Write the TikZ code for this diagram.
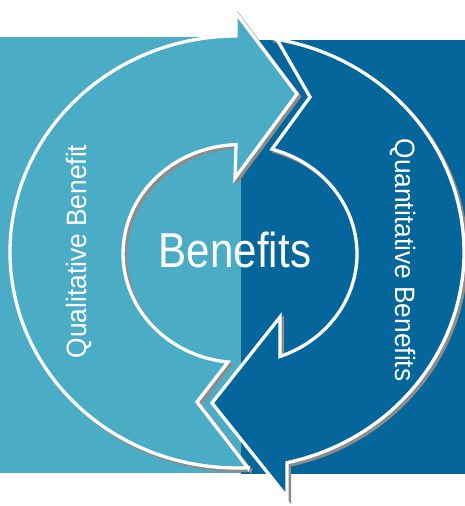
\documentclass[tikz,border=0pt]{standalone}
\usepackage{fontspec}
\setmainfont{Liberation Sans}
\definecolor{lightb}{HTML}{4BACC6}
\definecolor{darkb}{HTML}{04669A}
\definecolor{shad}{HTML}{8C8C8C}
\newcommand\lightshape[1]{%
  \path[#1] (248,38) -- (197,104) -- (228,144)
    arc[start angle=264.1, end angle=91.96, x radius=117, y radius=109]
    -- (235,328) -- (297,412) -- (236,493) -- (236,470)
    arc[start angle=90.25, end angle=272.8, x radius=227, y radius=216]
    -- cycle;}
\newcommand\darkshape[1]{%
  \path[#1] (277,466.6) -- (310,409) -- (272,356.8)
    arc[start angle=74.13, end angle=-70, x radius=117, y radius=109]
    -- (280,189) -- (212,103) -- (287,9) -- (287,43.3)
    arc[start angle=-77.27, end angle=79.85, x radius=227, y radius=216]
    -- cycle;}
\begin{document}
\begin{tikzpicture}[x=1pt,y=1pt,
  shadowstyle/.style={fill=shad, draw=shad, line width=3.3pt, line join=miter, shift={(2.5,-2.5)}},
  arrowstyle/.style={fill=#1, draw=white, line width=3.3pt, line join=miter},
  label/.style={text=white, inner sep=0pt, anchor=base, font=\fontsize{28}{28}\selectfont}]
\useasboundingbox (0,0) rectangle (465,506);
\fill[lightb] (0,33) rectangle (241,469);
\fill[darkb] (241,32) rectangle (465,466);
\lightshape{shadowstyle}
\darkshape{shadowstyle}
\lightshape{arrowstyle=lightb}
\darkshape{arrowstyle=darkb}
\node[label, font=\fontsize{49}{49}\selectfont] (ben) at (235,238) {\scalebox{0.86}[1]{Benefits}};
\node[label, rotate=90] (qual) at (86,254.5) {\scalebox{0.94}[1]{Qualitative Benefit}};
\node[label, rotate=-90] (quan) at (395,246) {\scalebox{0.94}[1]{Quantitative Benefits}};
\end{tikzpicture}
\end{document}
